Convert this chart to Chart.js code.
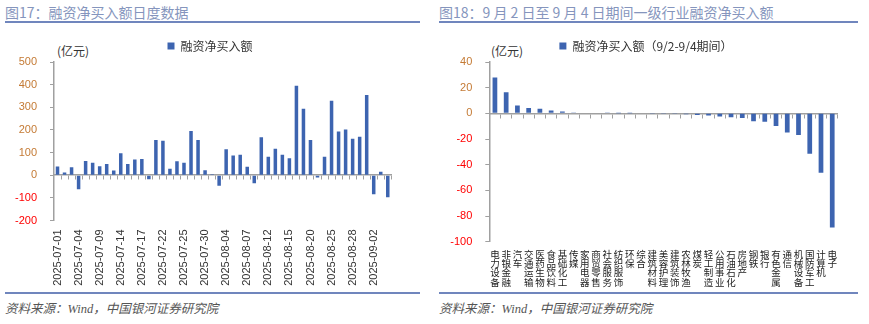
<!DOCTYPE html>
<html>
<head>
<meta charset="utf-8">
<script src="https://cdn.jsdelivr.net/npm/chart.js@4.4.1/dist/chart.umd.min.js"></script>
<style>
    body { margin: 0; width: 869px; height: 324px; background: #fff; position: relative; overflow: hidden; font-family: "Noto Sans CJK SC", sans-serif; }
    .title { position: absolute; top: 2px; font-size: 14px; color: #8595bd; white-space: nowrap; }
    .rule { position: absolute; height: 2px; background: #7086bd; }
    .src { position: absolute; top: 298px; font-size: 12.5px; font-style: italic; color: #555; white-space: nowrap; font-family: "Liberation Serif", "Noto Sans CJK SC", serif; }
    .unit { position: absolute; top: 42px; font-size: 12px; color: #333; }
    .box { position: absolute; top: 36px; width: 410px; height: 256px; }
</style>
</head>
<body>
<div class="title" style="left:5px">图17：融资净买入额日度数据</div>
<div class="rule" style="left:5px;width:415px;top:21px"></div>
<div class="rule" style="left:5px;width:415px;top:292px"></div>
<div class="src" style="left:5px">资料来源：Wind，中国银河证券研究院</div>
<div class="unit" style="left:57px">(亿元)</div>
<div class="box" style="left:0px"><canvas id="dailyChart"></canvas></div>

<div class="title" style="left:439px">图18：9 月 2 日至 9 月 4 日期间一级行业融资净买入额</div>
<div class="rule" style="left:439px;width:419px;top:21px"></div>
<div class="rule" style="left:439px;width:419px;top:292px"></div>
<div class="src" style="left:439px">资料来源：Wind，中国银河证券研究院</div>
<div class="unit" style="left:491px">(亿元)</div>
<div class="box" style="left:435px"><canvas id="industryChart"></canvas></div>

<script>
// Daily net margin buying, 100m yuan
const dates = [
    "2025-07-01", "2025-07-02", "2025-07-03", "2025-07-04", "2025-07-07", "2025-07-08", "2025-07-09", "2025-07-10",
    "2025-07-11", "2025-07-14", "2025-07-15", "2025-07-16", "2025-07-17", "2025-07-18", "2025-07-21", "2025-07-22",
    "2025-07-23", "2025-07-24", "2025-07-25", "2025-07-28", "2025-07-29", "2025-07-30", "2025-07-31", "2025-08-01",
    "2025-08-04", "2025-08-05", "2025-08-06", "2025-08-07", "2025-08-08", "2025-08-11", "2025-08-12", "2025-08-13",
    "2025-08-14", "2025-08-15", "2025-08-18", "2025-08-19", "2025-08-20", "2025-08-21", "2025-08-22", "2025-08-25",
    "2025-08-26", "2025-08-27", "2025-08-28", "2025-08-29", "2025-09-01", "2025-09-02", "2025-09-03", "2025-09-04"
];
const dailyNet = [
    38, 12, 35, -62, 63, 55, 40, 49, 21, 97, 50, 69, 72, -18, 156, 152,
    28, 62, 55, 195, 155, 22, 4, -47, 115, 87, 90, 37, -35, 168, 81, 117,
    90, 75, 395, 293, 155, -10, 81, 329, 193, 202, 161, 170, 354, -84, 15, -97
];

// Industry net margin buying 9/2-9/4
const industries = [
    "电力设备", "非银金融", "汽车", "交通运输", "医药生物", "食品饮料", "基础化工", "传媒",
    "家用电器", "商贸零售", "社会服务", "纺织服饰", "环保", "综合", "建筑材料", "美容护理",
    "建筑装饰", "农林牧渔", "煤炭", "轻工制造", "公用事业", "石油石化", "房地产", "钢铁",
    "银行", "有色金属", "通信", "机械设备", "国防军工", "计算机", "电子"
];
const industryNet = [
    28, 16.4, 6.2, 4.2, 3.6, 2.3, 1.5, 0.6, 0.5, 0.4, 0.3, 0.1, 0.05, 0, -0.05, -0.1,
    -0.5, -0.8, -1.3, -1.6, -2.4, -3, -3.6, -6.2, -6.5, -9.8, -15, -16.8, -31.5, -46.2, -88.9
];

const dailyTicks = [-200, -100, 0, 100, 200, 300, 400, 500];
const industryTicks = [-100, -80, -60, -40, -20, 0, 20, 40];

const barColor = "#3d64b0";
const axisColor = "#a0a0a0";
const numFont = { family: "Liberation Sans", size: 11 };

Chart.defaults.font.family = "'Noto Sans CJK SC', sans-serif";
Chart.defaults.animation = false;

function yAxis(ticksArr, axisWidth) {
    return {
        min: ticksArr[0],
        max: ticksArr[ticksArr.length - 1],
        afterFit: function(scale) { scale.width = axisWidth; },
        border: { display: true, color: axisColor, width: 1.5 },
        grid: { drawOnChartArea: false, drawTicks: true, tickLength: 4, color: axisColor },
        ticks: {
            stepSize: ticksArr[1] - ticksArr[0],
            padding: 13,
            font: numFont,
            color: function(ctx) { return ctx.tick.value < 0 ? "#ff0000" : "#c47a34"; }
        }
    };
}

// x axis sitting on the zero line, only used for the line and tick marks
const zeroAxis = {
    type: "category",
    position: { y: 0 },
    offset: true,
    border: { display: true, color: axisColor, width: 1.5 },
    grid: { offset: true, drawOnChartArea: false, drawTicks: true, tickLength: 4, color: axisColor },
    ticks: { display: false }
};

function legendOpts() {
    return {
        display: true,
        position: "top",
        labels: { boxWidth: 7, boxHeight: 7, padding: 4, color: "#333", font: { size: 12 } }
    };
}

new Chart(document.getElementById("dailyChart"), {
    type: "bar",
    data: {
        labels: dates,
        datasets: [{
            label: "融资净买入额",
            data: dailyNet,
            backgroundColor: barColor,
            borderWidth: 0,
            categoryPercentage: 1,
            barPercentage: 0.5
        }]
    },
    options: {
        responsive: true,
        maintainAspectRatio: false,
        layout: { padding: { left: 13, right: 3, top: 0, bottom: 0 } },
        plugins: { legend: legendOpts(), tooltip: { enabled: false } },
        scales: {
            x: {
                afterFit: function(scale) { scale.height = 71.5; },
                border: { display: false },
                grid: { display: false, drawTicks: false },
                ticks: {
                    autoSkip: false,
                    minRotation: 90,
                    maxRotation: 90,
                    padding: 9,
                    color: "#333",
                    font: numFont,
                    callback: function(value, index) {
                        return index % 3 === 0 ? this.getLabelForValue(value) : "";
                    }
                }
            },
            x2: zeroAxis,
            y: yAxis(dailyTicks, 41)
        }
    }
});

new Chart(document.getElementById("industryChart"), {
    type: "bar",
    data: {
        labels: industries.map(function(s) { return s.split(""); }),
        datasets: [{
            label: "融资净买入额（9/2-9/4期间）",
            data: industryNet,
            backgroundColor: barColor,
            borderWidth: 0,
            categoryPercentage: 1,
            barPercentage: 0.42
        }]
    },
    options: {
        responsive: true,
        maintainAspectRatio: false,
        layout: { padding: { left: 13, right: 1, top: 0, bottom: 0 } },
        plugins: { legend: legendOpts(), tooltip: { enabled: false } },
        scales: {
            x: {
                afterFit: function(scale) { scale.height = 50.3; },
                border: { display: false },
                grid: { display: false, drawTicks: false },
                ticks: {
                    autoSkip: false,
                    minRotation: 0,
                    maxRotation: 0,
                    padding: 8,
                    color: "#222",
                    font: { size: 9.5, lineHeight: 0.97 }
                }
            },
            x2: zeroAxis,
            y: yAxis(industryTicks, 41.3)
        }
    }
});
</script>
</body>
</html>
